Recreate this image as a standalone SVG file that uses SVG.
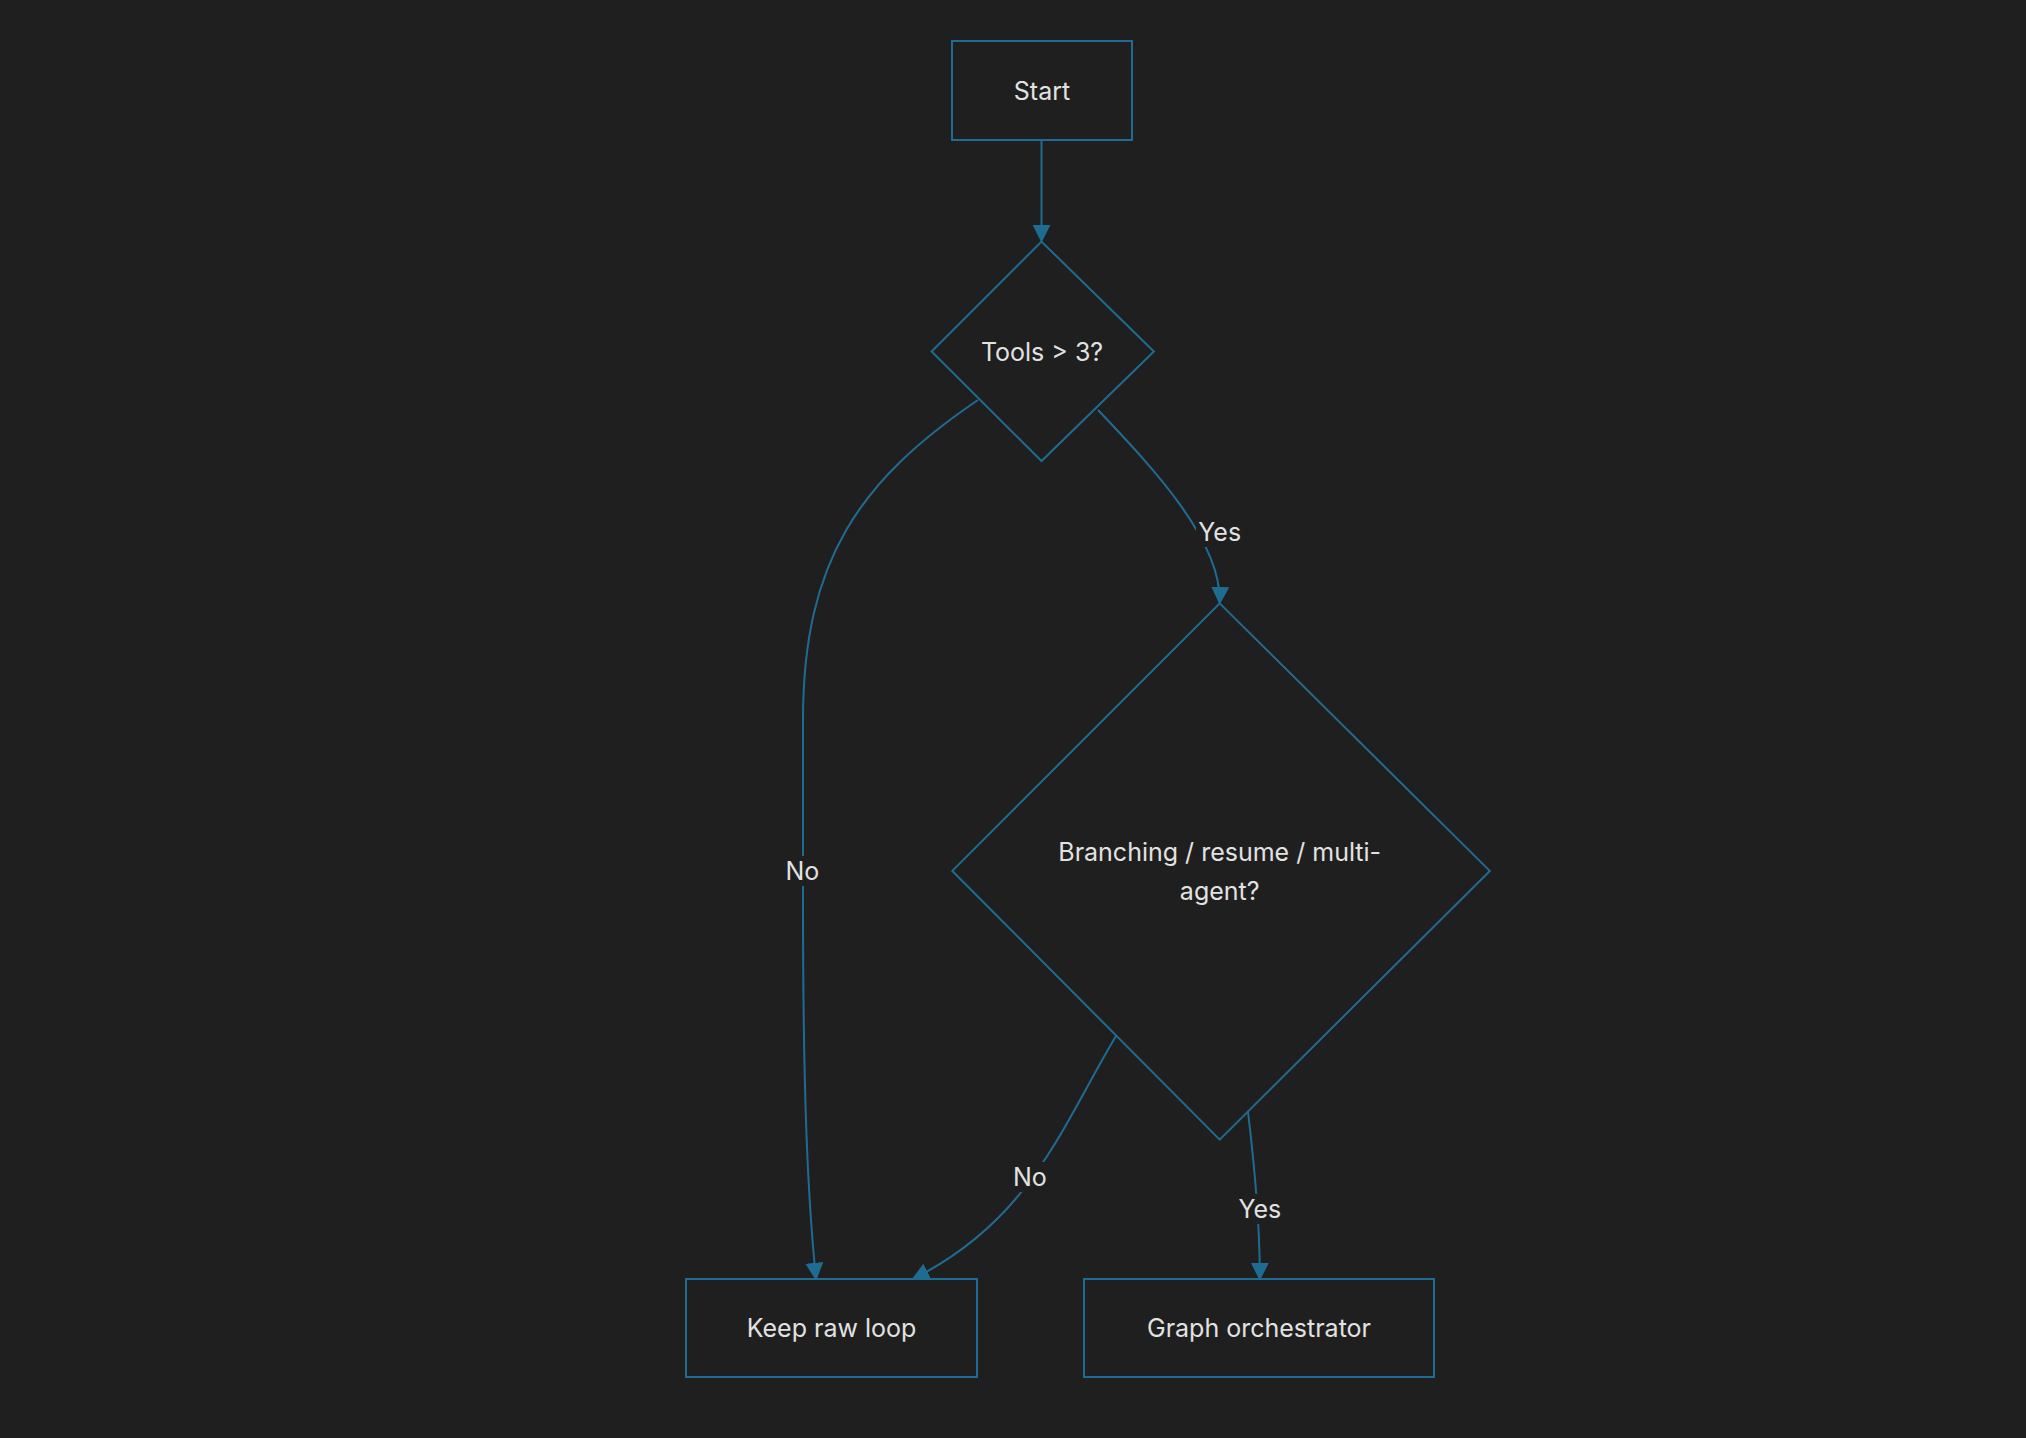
<svg xmlns="http://www.w3.org/2000/svg" width="2026" height="1438" viewBox="0 0 2026 1438">
<style>
.n{fill:#1f1f1f;stroke:#1f6c93;stroke-width:2}
.e{fill:none;stroke:#1f6c93;stroke-width:2}
text{font-family:"Inter","Liberation Sans",sans-serif;font-size:25px;fill:#e2e2e2;text-anchor:middle;dominant-baseline:central}
.lb{fill:#1f1f1f}
</style>
<defs><marker id="a" viewBox="0 0 10 10" refX="9" refY="5" markerWidth="9" markerHeight="9" orient="auto-start-reverse"><path d="M0,0L10,5L0,10z" fill="#1f6c93"/></marker></defs>
<rect width="2026" height="1438" fill="#1f1f1f"/>
<g id="connectors">
<path class="e" d="M1041.5,140V241" marker-end="url(#a)"/>
<path class="e" d="M1098,410C1150,465 1222,540 1219.7,603" marker-end="url(#a)"/>
<path class="e" d="M978,400C860,480 803,560 803,720V900C803,1100 808,1200 816,1279" marker-end="url(#a)"/>
<path class="e" d="M1116,1036C1060,1130 1030,1220 913,1279" marker-end="url(#a)"/>
<path class="e" d="M1248,1112C1255,1170 1260,1230 1259.8,1279" marker-end="url(#a)"/>
<rect class="lb" x="1196" y="517" width="48" height="30"/><text x="1219.7" y="532">Yes</text>
<rect class="lb" x="782" y="856" width="42" height="30"/><text x="802.4" y="871">No</text>
<rect class="lb" x="1009" y="1162" width="42" height="30"/><text x="1029.8" y="1177">No</text>
<rect class="lb" x="1236" y="1194" width="48" height="30"/><text x="1259.8" y="1209.4">Yes</text>
</g>
<g id="start"><rect class="n" x="952" y="41" width="180" height="99"/><text x="1042" y="90.5">Start</text></g>
<g id="d1"><polygon class="n" points="1041.5,241.6 1153.9,351.5 1041.5,461 931.6,351.5"/><text x="1042" y="351.5">Tools &gt; 3?</text></g>
<g id="d2"><polygon class="n" points="1219.7,603.4 1489.8,870.9 1219.7,1139.6 952.3,870.9"/><text x="1219.7" y="852">Branching / resume / multi-</text><text x="1219.7" y="891">agent?</text></g>
<g id="keep"><rect class="n" x="686" y="1279" width="291" height="98"/><text x="831.5" y="1328">Keep raw loop</text></g>
<g id="graph"><rect class="n" x="1084" y="1279" width="350" height="98"/><text x="1259" y="1328">Graph orchestrator</text></g>
</svg>
